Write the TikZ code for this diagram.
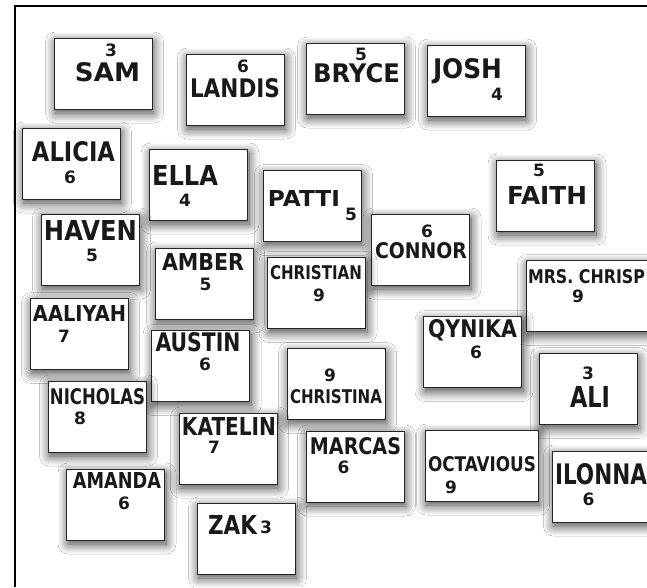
\documentclass[tikz,border=0pt]{standalone}
\usepackage{fontspec}
\setmainfont{DejaVu Sans}
\usepackage{graphicx}
\usetikzlibrary{shadows.blur}
\providecommand{\nm}[3]{\resizebox{#1pt}{#2pt}{\bfseries #3}}

\begin{document}
\begin{tikzpicture}[
  x=1pt, y=-1pt,
  card/.style={draw=black!85, line width=1pt, fill=white, inner sep=0pt, minimum width=98pt, minimum height=71pt,
    blur shadow={shadow xshift=1.5pt, shadow yshift=-4pt, shadow blur radius=10pt, shadow blur steps=12, shadow opacity=75}},
  pname/.style={inner sep=0pt, text=black!90},
  pnum/.style={inner sep=0pt, font=\fontsize{17}{17}\selectfont\bfseries, text=black!90},
  frame/.style={line width=2.4pt, black}
]
\useasboundingbox (0,0) rectangle (647,587);
\clip (0,0) rectangle (647,587);
\fill[white] (0,0) rectangle (647,587);
\draw[frame] (15,587) -- (15,6) -- (607,6);
\draw[frame, line width=1.5pt] (607,6) -- (647,6);

% ================= top rows =================
\node[card] (sam) at (103,73.5) {};
\node[pname] (samN) at (107.5,72.5) {\nm{65}{19}{SAM}};
\node[pnum] (samK) at (111,50) {3};
\node[card] (landis) at (235,89.5) {};
\node[pname] (landisN) at (235,88) {\nm{90}{19}{LANDIS}};
\node[pnum] (landisK) at (243,66) {6};
\node[card] (bryce) at (355,78.5) {};
\node[pname] (bryceN) at (356.5,73) {\nm{87}{19}{BRYCE}};
\node[pnum] (bryceK) at (361,54) {5};
\node[card] (josh) at (476,80.5) {};
\node[pname] (joshN) at (467.5,71) {\nm{69}{20}{JOSH}};
\node[pnum] (joshK) at (497,94) {4};

\node[card] (alicia) at (71,163.5) {};
\node[pname] (aliciaN) at (73.5,152) {\nm{83}{20}{ALICIA}};
\node[pnum] (aliciaK) at (70,177) {6};
\node[card] (ella) at (198.5,184.5) {};
\node[pname] (ellaN) at (185,175) {\nm{66}{20}{ELLA}};
\node[pnum] (ellaK) at (185,200) {4};
\node[card] (patti) at (312,206) {};
\node[pname] (pattiN) at (304,198) {\nm{72}{16}{PATTI}};
\node[pnum] (pattiK) at (351,214) {5};
\node[card] (faith) at (545.5,195.5) {};
\node[pname] (faithN) at (547,195) {\nm{80}{18}{FAITH}};
\node[pnum] (faithK) at (539,170) {5};

% ================= middle rows =================
\node[card] (haven) at (90,249.5) {};
\node[pname] (havenN) at (90.5,230) {\nm{93}{20}{HAVEN}};
\node[pnum] (havenK) at (92,255) {5};
\node[card] (connor) at (420.5,249.5) {};
\node[pname] (connorN) at (421,251) {\nm{92}{16}{CONNOR}};
\node[pnum] (connorK) at (427,231) {6};
\node[card] (amber) at (204,283.5) {};
\node[pname] (amberN) at (203,261.5) {\nm{82}{17}{AMBER}};
\node[pnum] (amberK) at (205.5,284) {5};
\node[card] (christian) at (316.5,293) {};
\node[pname] (christianN) at (316,273) {\nm{92}{14}{CHRISTIAN}};
\node[pnum] (christianK) at (319,295) {9};
\node[card, minimum width=126pt] (chrisp) at (589,296) {};
\node[pname] (chrispN) at (586.5,277) {\nm{117}{14}{MRS. CHRISP}};
\node[pnum] (chrispK) at (578,296) {9};

\node[card] (aaliyah) at (79,334) {};
\node[pname] (aaliyahN) at (79.5,313) {\nm{93}{16}{AALIYAH}};
\node[pnum] (aaliyahK) at (64,336) {7};
\node[card] (austin) at (200.5,366) {};
\node[pname] (austinN) at (198,342.5) {\nm{85}{19}{AUSTIN}};
\node[pnum] (austinK) at (205,364) {6};
\node[card] (qynika) at (472.5,352) {};
\node[pname] (qynikaN) at (472.5,330) {\nm{89}{18}{QYNIKA}};
\node[pnum] (qynikaK) at (476,352) {6};
\node[card] (christina) at (336,384) {};
\node[pname] (christinaN) at (336,397) {\nm{92}{14}{CHRISTINA}};
\node[pnum] (christinaK) at (330,375) {9};
\node[card] (ali) at (588,389) {};
\node[pname] (aliN) at (590,397) {\nm{40}{21}{ALI}};
\node[pnum] (aliK) at (588,373) {3};

% ================= bottom rows =================
\node[card] (nicholas) at (97,416.5) {};
\node[pname] (nicholasN) at (97.5,396.5) {\nm{95}{16}{NICHOLAS}};
\node[pnum] (nicholasK) at (80,418) {8};
\node[card] (katelin) at (228,448.5) {};
\node[pname] (katelinN) at (229,426) {\nm{94}{18}{KATELIN}};
\node[pnum] (katelinK) at (214,447) {7};
\node[card] (marcas) at (355,466.5) {};
\node[pname] (marcasN) at (355.5,446.5) {\nm{91}{17}{MARCAS}};
\node[pnum] (marcasK) at (343.5,467) {6};
\node[card, minimum width=113pt] (octavious) at (481.5,465.5) {};
\node[pname] (octaviousN) at (482,464.5) {\nm{108}{15}{OCTAVIOUS}};
\node[pnum] (octaviousK) at (451,487) {9};
\node[card] (ilonna) at (601,486.5) {};
\node[pname] (ilonnaN) at (601,474) {\nm{92}{21}{ILONNA}};
\node[pnum] (ilonnaK) at (588.5,499) {6};

\node[card] (amanda) at (115.5,504.5) {};
\node[pname] (amandaN) at (117,480.5) {\nm{88}{16}{AMANDA}};
\node[pnum] (amandaK) at (124,503) {6};
\node[card] (zak) at (246,538.5) {};
\node[pname] (zakN) at (232.5,524.5) {\nm{49}{19}{ZAK}};
\node[pnum] (zakK) at (266,527) {3};

\end{tikzpicture}
\end{document}
